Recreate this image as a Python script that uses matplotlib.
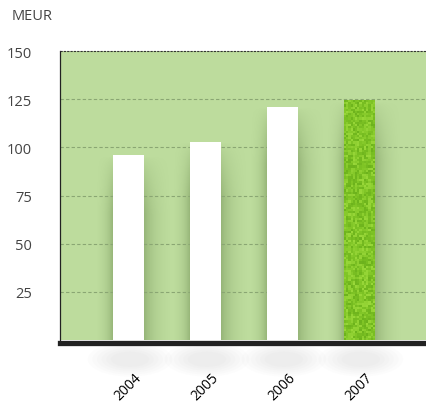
import numpy as np
import matplotlib
matplotlib.use("Agg")
import matplotlib.pyplot as plt
from matplotlib.colors import LinearSegmentedColormap, to_rgb
from matplotlib.patches import Ellipse
from matplotlib.transforms import ScaledTranslation

years = ["2004", "2005", "2006", "2007"]
values = [96, 103, 121, 124.5]
yticks = [25, 50, 75, 100, 125, 150]
unit = "MEUR"

plt.rcParams["font.family"] = ["Open Sans", "DejaVu Sans"]

fig = plt.figure(figsize=(4.27, 4.06), dpi=100)
ax = fig.add_axes([60 / 427, 65 / 406, 367 / 427, 289 / 406])
ax.set_facecolor("#bddc9d")

x = np.arange(len(years))
width = 0.4

# soft shadow around each column, a little heavier on the right side
for xi, v in zip(x, values):
    xs = np.linspace(xi - 0.55, xi + 0.55, 140)
    ys = np.linspace(0, v, 80)
    rel = xs - xi
    dl = np.maximum(-rel - width / 2, 0)
    dr = np.maximum(rel - width / 2, 0)
    horiz = np.where(rel < 0, np.exp(-dl / 0.1), np.exp(-dr / 0.16))
    horiz = np.clip(horiz - np.exp(-0.35 / 0.16), 0, None)
    vert = np.clip((v - ys) / 30, 0, 1) ** 0.7
    img = np.zeros((len(ys), len(xs), 4))
    img[..., :3] = to_rgb("#46652c")
    img[..., 3] = 0.38 * np.outer(vert, horiz)
    ax.imshow(img, extent=(xs[0], xs[-1], 0, v), origin="lower",
              aspect="auto", interpolation="bilinear", zorder=1)

colors = ["white"] * (len(years) - 1) + ["#7cc320"]
bars = ax.bar(x, values, width=width, color=colors, linewidth=0, zorder=3)

# speckled texture on the highlighted column
last = bars[-1]
rng = np.random.default_rng(3)
tex = rng.random((110, 14))
im = ax.imshow(tex, cmap=LinearSegmentedColormap.from_list(
    "g", ["#6cb21c", "#80c526", "#9ad83a"]),
    extent=(last.get_x(), last.get_x() + last.get_width(), 0, last.get_height()),
    aspect="auto", interpolation="nearest", zorder=4)
im.set_clip_path(last)

for v in yticks[:-1]:
    ax.axhline(v, color="#8aa673", lw=0.8, ls=(0, (3, 2)), zorder=2)
ax.axhline(150, color="#333333", lw=0.8, ls=(0, (2, 1)), zorder=5, clip_on=False)

ax.set_xlim(-0.89, 3.88)
ax.set_ylim(0, 150)
ax.set_yticks(yticks)
ax.set_yticklabels([str(t) for t in yticks], fontsize=10.5, color="#444444")
ax.tick_params(axis="y", length=0, pad=20)
ax.set_xticks(x)
ax.set_xticklabels(years, fontsize=10.5, color="#555555")
ax.tick_params(axis="x", length=0, pad=19, labelrotation=45)
plt.setp(ax.get_xticklabels(), ha="right", va="top", rotation_mode="anchor")
shift = ScaledTranslation(-5 / 100, 0, fig.dpi_scale_trans)
for lbl in ax.get_xticklabels():
    lbl.set_transform(lbl.get_transform() + shift)

for s in ["top", "right"]:
    ax.spines[s].set_visible(False)
ax.spines["left"].set_color("#222222")
ax.spines["left"].set_linewidth(0.9)
ax.spines["bottom"].set_color("#222222")
ax.spines["bottom"].set_linewidth(3.8)
ax.spines["bottom"].set_position(("outward", 2.5))
ax.spines["bottom"].set_zorder(6)

# faint floor shadows under the columns
for xi in x:
    for k in range(6):
        e = Ellipse((xi + 0.02, -10), 1.1 - 0.12 * k, 18 - 2 * k, color="#999999",
                    alpha=0.025, lw=0, clip_on=False, zorder=0)
        ax.add_patch(e)

fig.text(12 / 427, 1 - 16 / 406, unit, fontsize=10.5, color="#444444",
         ha="left", va="center")

fig.savefig("out.png", dpi=100, facecolor="white")
